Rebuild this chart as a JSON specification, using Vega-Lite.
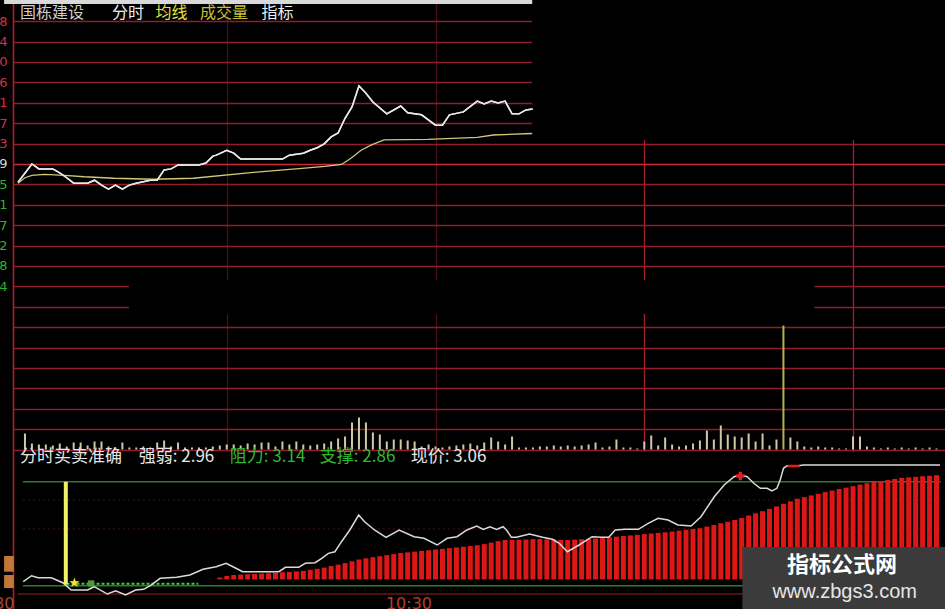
{
"$schema": "https://vega.github.io/schema/vega-lite/v6.json",
"width": 932,
"height": 609,
"autosize": {"type": "none"},
"padding": {"left": 13, "top": 0, "right": 0, "bottom": 0},
"background": "#000000",
"config": {"view": {"stroke": null}},
"data": {"values": [{}]},
"datasets": {
"price": [{"t":0,"p":2.953},{"t":2,"p":2.990},{"t":3,"p":2.980},{"t":5,"p":2.980},{"t":6,"p":2.972},{"t":7,"p":2.962},{"t":8,"p":2.951},{"t":10,"p":2.951},{"t":11,"p":2.957},{"t":12,"p":2.947},{"t":13,"p":2.939},{"t":14,"p":2.947},{"t":15,"p":2.939},{"t":16,"p":2.947},{"t":17,"p":2.951},{"t":19,"p":2.957},{"t":20,"p":2.957},{"t":21,"p":2.978},{"t":22,"p":2.980},{"t":23,"p":2.988},{"t":26,"p":2.988},{"t":27,"p":2.992},{"t":28,"p":3.006},{"t":28.5,"p":3.008},{"t":30,"p":3.018},{"t":31,"p":3.012},{"t":32,"p":3.000},{"t":38,"p":3.000},{"t":39,"p":3.008},{"t":41,"p":3.012},{"t":42,"p":3.018},{"t":43,"p":3.023},{"t":44,"p":3.031},{"t":45,"p":3.045},{"t":46,"p":3.053},{"t":47,"p":3.083},{"t":48,"p":3.106},{"t":49,"p":3.149},{"t":50,"p":3.134},{"t":51,"p":3.116},{"t":53,"p":3.092},{"t":55,"p":3.108},{"t":56,"p":3.094},{"t":58,"p":3.090},{"t":60,"p":3.069},{"t":61,"p":3.069},{"t":62,"p":3.090},{"t":64,"p":3.096},{"t":66,"p":3.118},{"t":67,"p":3.112},{"t":68,"p":3.118},{"t":69,"p":3.114},{"t":70,"p":3.118},{"t":71,"p":3.092},{"t":72,"p":3.092},{"t":73,"p":3.100},{"t":74,"p":3.102}],
"avg": [{"t":0,"a":2.951},{"t":1,"a":2.962},{"t":2,"a":2.967},{"t":3.8,"a":2.969},{"t":6.7,"a":2.967},{"t":9.5,"a":2.964},{"t":13.8,"a":2.961},{"t":19.5,"a":2.959},{"t":25.2,"a":2.961},{"t":34.7,"a":2.974},{"t":40.8,"a":2.981},{"t":44.1,"a":2.985},{"t":46.5,"a":2.989},{"t":47.9,"a":3.002},{"t":49.3,"a":3.018},{"t":50.8,"a":3.029},{"t":52.6,"a":3.039},{"t":58.9,"a":3.040},{"t":66,"a":3.044},{"t":68.3,"a":3.049},{"t":73.9,"a":3.052}],
"vol": [{"t":1,"v":1600},{"t":2,"v":600},{"t":3,"v":500},{"t":4,"v":500},{"t":5,"v":400},{"t":6,"v":600},{"t":7,"v":300},{"t":8,"v":700},{"t":9,"v":700},{"t":10,"v":400},{"t":11,"v":800},{"t":12,"v":800},{"t":13,"v":300},{"t":14,"v":200},{"t":15,"v":700},{"t":16,"v":200},{"t":17,"v":200},{"t":18,"v":300},{"t":19,"v":200},{"t":20,"v":700},{"t":21,"v":900},{"t":22,"v":300},{"t":23,"v":700},{"t":24,"v":200},{"t":25,"v":200},{"t":26,"v":200},{"t":27,"v":200},{"t":28,"v":300},{"t":29,"v":400},{"t":30,"v":500},{"t":31,"v":500},{"t":32,"v":400},{"t":33,"v":600},{"t":34,"v":500},{"t":35,"v":700},{"t":36,"v":700},{"t":37,"v":300},{"t":38,"v":800},{"t":39,"v":500},{"t":40,"v":800},{"t":41,"v":500},{"t":42,"v":400},{"t":43,"v":500},{"t":44,"v":600},{"t":45,"v":800},{"t":46,"v":1100},{"t":47,"v":1300},{"t":48,"v":2700},{"t":49,"v":3200},{"t":50,"v":2700},{"t":51,"v":1700},{"t":52,"v":1500},{"t":53,"v":800},{"t":54,"v":1000},{"t":55,"v":1000},{"t":56,"v":900},{"t":57,"v":800},{"t":58,"v":300},{"t":59,"v":500},{"t":60,"v":300},{"t":61,"v":200},{"t":62,"v":300},{"t":63,"v":400},{"t":64,"v":500},{"t":65,"v":600},{"t":66,"v":400},{"t":67,"v":700},{"t":68,"v":1200},{"t":69,"v":800},{"t":70,"v":500},{"t":71,"v":1300},{"t":72,"v":200},{"t":73,"v":200},{"t":74,"v":200},{"t":75,"v":300},{"t":76,"v":300},{"t":77,"v":400},{"t":78,"v":300},{"t":79,"v":400},{"t":80,"v":300},{"t":81,"v":400},{"t":82,"v":500},{"t":83,"v":700},{"t":84,"v":200},{"t":85,"v":300},{"t":86,"v":1000},{"t":87,"v":200},{"t":88,"v":200},{"t":89,"v":100},{"t":90,"v":800},{"t":91,"v":1400},{"t":92,"v":400},{"t":93,"v":1200},{"t":94,"v":500},{"t":95,"v":300},{"t":96,"v":400},{"t":97,"v":600},{"t":98,"v":900},{"t":99,"v":1900},{"t":100,"v":1000},{"t":101,"v":2400},{"t":102,"v":1500},{"t":103,"v":1300},{"t":104,"v":1200},{"t":105,"v":1600},{"t":106,"v":800},{"t":107,"v":1600},{"t":108,"v":400},{"t":109,"v":1000},{"t":110,"v":12400},{"t":111,"v":1200},{"t":112,"v":800},{"t":113,"v":300},{"t":114,"v":200},{"t":115,"v":300},{"t":116,"v":200},{"t":117,"v":200},{"t":118,"v":100},{"t":119,"v":100},{"t":120,"v":1300},{"t":121,"v":1300},{"t":122,"v":300},{"t":123,"v":200},{"t":124,"v":100},{"t":125,"v":200},{"t":126,"v":100},{"t":127,"v":200},{"t":128,"v":100},{"t":129,"v":200},{"t":130,"v":100},{"t":131,"v":200},{"t":132,"v":100}],
"ind": [{"t":0.75,"v":2.8708},{"t":1.95,"v":2.8869},{"t":2.89,"v":2.8815},{"t":4.79,"v":2.8815},{"t":6.44,"v":2.8681},{"t":7.64,"v":2.8484},{"t":10.0,"v":2.8484},{"t":10.95,"v":2.8573},{"t":12.84,"v":2.8376},{"t":14.03,"v":2.8465},{"t":15.46,"v":2.835},{"t":16.88,"v":2.8484},{"t":18.06,"v":2.8503},{"t":19.01,"v":2.86},{"t":20.43,"v":2.8799},{"t":22.79,"v":2.8826},{"t":24.7,"v":2.8888},{"t":26.59,"v":2.9042},{"t":28.48,"v":2.9112},{"t":29.9,"v":2.9203},{"t":31.32,"v":2.9069},{"t":32.28,"v":2.8977},{"t":37.49,"v":2.8977},{"t":38.43,"v":2.9095},{"t":40.34,"v":2.9095},{"t":41.28,"v":2.9203},{"t":42.7,"v":2.9219},{"t":43.65,"v":2.9338},{"t":44.6,"v":2.9472},{"t":45.54,"v":2.9515},{"t":46.49,"v":2.9785},{"t":47.68,"v":3.01},{"t":48.96,"v":3.0503},{"t":49.81,"v":3.0323},{"t":51.23,"v":3.01},{"t":52.89,"v":2.9903},{"t":54.78,"v":3.01},{"t":56.92,"v":2.9919},{"t":58.34,"v":2.9876},{"t":60.24,"v":2.9696},{"t":61.67,"v":2.9876},{"t":63.09,"v":2.9919},{"t":64.51,"v":3.01},{"t":65.93,"v":3.0207},{"t":66.87,"v":3.0118},{"t":67.82,"v":3.0188},{"t":68.78,"v":3.0118},{"t":69.71,"v":3.0188},{"t":70.2,"v":3.01},{"t":70.91,"v":2.9903},{"t":71.62,"v":2.9903},{"t":73.51,"v":2.9992},{"t":75.4,"v":2.9903},{"t":76.82,"v":2.9849},{"t":77.78,"v":2.9742},{"t":78.96,"v":2.9515},{"t":80.62,"v":2.9696},{"t":82.51,"v":2.9919},{"t":83.93,"v":2.9903},{"t":84.89,"v":2.9903},{"t":85.84,"v":3.01},{"t":87.26,"v":3.0118},{"t":89.15,"v":3.0118},{"t":90.57,"v":3.028},{"t":91.99,"v":3.0415},{"t":93.42,"v":3.0369},{"t":94.84,"v":3.0234},{"t":96.73,"v":3.0207},{"t":98.15,"v":3.0458},{"t":100.06,"v":3.0996},{"t":101.48,"v":3.1311},{"t":102.9,"v":3.1535},{"t":103.84,"v":3.158},{"t":104.79,"v":3.1535},{"t":105.74,"v":3.1357},{"t":106.68,"v":3.1222},{"t":107.64,"v":3.1222},{"t":108.35,"v":3.115},{"t":109.06,"v":3.1222},{"t":109.53,"v":3.1446},{"t":110.01,"v":3.1761},{"t":110.48,"v":3.1823},{"t":111.91,"v":3.1823},{"t":112.85,"v":3.185},{"t":132.5,"v":3.185}],
"bars": [{"t":29,"v":2.8821},{"t":30,"v":2.8861},{"t":31,"v":2.8888},{"t":32,"v":2.8899},{"t":33,"v":2.891},{"t":34,"v":2.892},{"t":35,"v":2.8928},{"t":36,"v":2.8937},{"t":37,"v":2.8947},{"t":38,"v":2.8961},{"t":39,"v":2.8972},{"t":40,"v":2.8985},{"t":41,"v":2.8998},{"t":42,"v":2.9028},{"t":43,"v":2.9055},{"t":44,"v":2.9087},{"t":45,"v":2.913},{"t":46,"v":2.9168},{"t":47,"v":2.9208},{"t":48,"v":2.9257},{"t":49,"v":2.9305},{"t":50,"v":2.9338},{"t":51,"v":2.9367},{"t":52,"v":2.9394},{"t":53,"v":2.9424},{"t":54,"v":2.9451},{"t":55,"v":2.948},{"t":56,"v":2.9499},{"t":57,"v":2.9518},{"t":58,"v":2.9537},{"t":59,"v":2.9556},{"t":60,"v":2.9575},{"t":61,"v":2.9593},{"t":62,"v":2.9612},{"t":63,"v":2.9631},{"t":64,"v":2.965},{"t":65,"v":2.9669},{"t":66,"v":2.9688},{"t":67,"v":2.972},{"t":68,"v":2.976},{"t":69,"v":2.9801},{"t":70,"v":2.983},{"t":71,"v":2.9836},{"t":72,"v":2.9841},{"t":73,"v":2.9847},{"t":74,"v":2.9855},{"t":75,"v":2.9855},{"t":76,"v":2.9849},{"t":77,"v":2.9844},{"t":78,"v":2.9836},{"t":79,"v":2.983},{"t":80,"v":2.9841},{"t":81,"v":2.9852},{"t":82,"v":2.986},{"t":83,"v":2.9871},{"t":84,"v":2.9884},{"t":85,"v":2.9903},{"t":86,"v":2.9922},{"t":87,"v":2.9938},{"t":88,"v":2.9954},{"t":89,"v":2.997},{"t":90,"v":2.9989},{"t":91,"v":3.0005},{"t":92,"v":3.0022},{"t":93,"v":3.0038},{"t":94,"v":3.0059},{"t":95,"v":3.0081},{"t":96,"v":3.0105},{"t":97,"v":3.0127},{"t":98,"v":3.0148},{"t":99,"v":3.0191},{"t":100,"v":3.0234},{"t":101,"v":3.028},{"t":102,"v":3.0323},{"t":103,"v":3.0369},{"t":104,"v":3.0425},{"t":105,"v":3.049},{"t":106,"v":3.0549},{"t":107,"v":3.0606},{"t":108,"v":3.0668},{"t":109,"v":3.0735},{"t":110,"v":3.0805},{"t":111,"v":3.0872},{"t":112,"v":3.0942},{"t":113,"v":3.0985},{"t":114,"v":3.1031},{"t":115,"v":3.1074},{"t":116,"v":3.112},{"t":117,"v":3.1163},{"t":118,"v":3.1203},{"t":119,"v":3.1241},{"t":120,"v":3.1282},{"t":121,"v":3.1322},{"t":122,"v":3.136},{"t":123,"v":3.1392},{"t":124,"v":3.1419},{"t":125,"v":3.1448},{"t":126,"v":3.1475},{"t":127,"v":3.1505},{"t":128,"v":3.1518},{"t":129,"v":3.1532},{"t":130,"v":3.1548},{"t":131,"v":3.1562},{"t":132,"v":3.1575}]
},
"resolve": {"scale": {"y": "independent"}, "axis": {"x": "independent", "y": "independent"}},
"layer": [
{
"layer": [
{"data": {"name": "price"},
 "mark": {"type": "line", "color": "#e8e8e8", "strokeWidth": 1.5},
 "encoding": {
  "x": {"field": "t", "type": "quantitative", "scale": {"domain": [0, 132.5], "nice": false, "zero": false},
   "axis": {"orient": "bottom", "title": null, "values": [30, 60, 90, 120], "grid": true, "labels": false, "ticks": false, "domain": false, "gridWidth": 1.3,
    "gridColor": {"condition": {"test": "datum.value >= 90", "value": "#a51e2c"}, "value": "#4a0e16"}}},
  "y": {"field": "p", "type": "quantitative", "scale": {"domain": [2.0847, 3.3236], "nice": false, "zero": false},
   "axis": {"orient": "left", "title": null,
    "values": [3.2805, 3.239, 3.1975, 3.156, 3.1145, 3.073, 3.0315, 2.99, 2.9485, 2.907, 2.8655, 2.824, 2.7825, 2.741],
    "format": ".2f",
    "grid": true, "gridWidth": 1.5, "ticks": false, "tickSize": 0,
    "gridColor": {"condition": {"test": "abs(datum.value - 2.99) < 0.001", "value": "#cc2838"}, "value": "#901c2c"},
    "domain": true, "domainColor": "#b01e2e", "domainWidth": 1.6,
    "labelPadding": 6, "labelFont": "DejaVu Sans", "labelFontSize": 13, "labelBaseline": "middle", "labelOverlap": false, "labelSeparation": 0, "labelFlush": false, "labelBound": false,
    "labelColor": {"condition": [{"test": "datum.value > 3", "value": "#d8303e"}, {"test": "datum.value > 2.98", "value": "#d8d8d8"}], "value": "#2cb42c"}}}}},
{"mark": {"type": "rect", "color": "#000000"},
 "encoding": {"x": {"datum": 73.9, "type": "quantitative", "scale": {"domain": [0, 132.5], "nice": false, "zero": false}}, "x2": {"datum": 134},
  "y": {"datum": 3.34, "type": "quantitative", "scale": {"domain": [2.0847, 3.3236], "nice": false, "zero": false}}, "y2": {"datum": 3.0388}}},
{"mark": {"type": "rect", "color": "#d9d9d9"},
 "encoding": {"x": {"datum": -2, "type": "quantitative", "scale": {"domain": [0, 132.5], "nice": false, "zero": false}}, "x2": {"datum": 73.9},
  "y": {"datum": 3.34, "type": "quantitative", "scale": {"domain": [2.0847, 3.3236], "nice": false, "zero": false}}, "y2": {"datum": 3.3155}}},
{"mark": {"type": "rect", "color": "#000000"},
 "encoding": {"x": {"datum": 15.93, "type": "quantitative", "scale": {"domain": [0, 132.5], "nice": false, "zero": false}}, "x2": {"datum": 114.46},
  "y": {"datum": 2.754, "type": "quantitative", "scale": {"domain": [2.0847, 3.3236], "nice": false, "zero": false}}, "y2": {"datum": 2.6849}}},
{"data": {"name": "avg"},
 "mark": {"type": "line", "color": "#cfc77a", "strokeWidth": 1.3},
 "encoding": {"x": {"field": "t", "type": "quantitative", "scale": {"domain": [0, 132.5], "nice": false, "zero": false}},
  "y": {"field": "a", "type": "quantitative", "scale": {"domain": [2.0847, 3.3236], "nice": false, "zero": false}}}},
{"data": {"name": "price"},
 "mark": {"type": "line", "color": "#e8e8e8", "strokeWidth": 1.5},
 "encoding": {"x": {"field": "t", "type": "quantitative", "scale": {"domain": [0, 132.5], "nice": false, "zero": false}},
  "y": {"field": "p", "type": "quantitative", "scale": {"domain": [2.0847, 3.3236], "nice": false, "zero": false}}}},
{"mark": {"type": "text", "text": "国栋建设", "align": "left", "baseline": "middle", "font": "Noto Sans CJK SC", "fontSize": 16, "color": "#cfcfcf"},
 "encoding": {"x": {"datum": 0.28, "type": "quantitative", "scale": {"domain": [0, 132.5], "nice": false, "zero": false}},
  "y": {"datum": 3.2972, "type": "quantitative", "scale": {"domain": [2.0847, 3.3236], "nice": false, "zero": false}}}},
{"mark": {"type": "text", "text": "分时", "align": "left", "baseline": "middle", "font": "Noto Sans CJK SC", "fontSize": 16, "color": "#eeeeee"},
 "encoding": {"x": {"datum": 13.5, "type": "quantitative", "scale": {"domain": [0, 132.5], "nice": false, "zero": false}},
  "y": {"datum": 3.2972, "type": "quantitative", "scale": {"domain": [2.0847, 3.3236], "nice": false, "zero": false}}}},
{"mark": {"type": "text", "text": "均线", "align": "left", "baseline": "middle", "font": "Noto Sans CJK SC", "fontSize": 16, "color": "#e6e040"},
 "encoding": {"x": {"datum": 19.76, "type": "quantitative", "scale": {"domain": [0, 132.5], "nice": false, "zero": false}},
  "y": {"datum": 3.2972, "type": "quantitative", "scale": {"domain": [2.0847, 3.3236], "nice": false, "zero": false}}}},
{"mark": {"type": "text", "text": "成交量", "align": "left", "baseline": "middle", "font": "Noto Sans CJK SC", "fontSize": 16, "color": "#c8c034"},
 "encoding": {"x": {"datum": 26.16, "type": "quantitative", "scale": {"domain": [0, 132.5], "nice": false, "zero": false}},
  "y": {"datum": 3.2972, "type": "quantitative", "scale": {"domain": [2.0847, 3.3236], "nice": false, "zero": false}}}},
{"mark": {"type": "text", "text": "指标", "align": "left", "baseline": "middle", "font": "Noto Sans CJK SC", "fontSize": 16, "color": "#eeeeee"},
 "encoding": {"x": {"datum": 35.0, "type": "quantitative", "scale": {"domain": [0, 132.5], "nice": false, "zero": false}},
  "y": {"datum": 3.2972, "type": "quantitative", "scale": {"domain": [2.0847, 3.3236], "nice": false, "zero": false}}}}
]
},
{
"data": {"name": "vol"},
"mark": {"type": "bar", "size": 2},
"encoding": {
 "x": {"field": "t", "type": "quantitative", "scale": {"domain": [0, 132.5], "nice": false, "zero": false}, "axis": null},
 "y": {"field": "v", "type": "quantitative", "scale": {"domain": [-15950, 44950], "nice": false, "zero": false},
  "axis": {"orient": "left", "title": null, "values": [14270, 12230, 10190, 8150, 6110, 4070, 2030, -10], "grid": true, "gridColor": "#901c2c", "gridWidth": 1.5, "labels": false, "ticks": false, "domain": false}},
 "y2": {"datum": 0},
 "color": {"condition": {"test": "datum.v > 5000", "value": "#b8b04e"}, "value": "#cfc8a6"}
}
},
{
"layer": [
{"data": {"name": "ind"},
 "mark": {"type": "rect", "color": "#000000"},
 "encoding": {"x": {"datum": 0.25, "type": "quantitative", "scale": {"domain": [0, 132.5], "nice": false, "zero": false},
   "axis": {"orient": "bottom", "title": null, "values": [0, 60], "grid": false, "ticks": false, "tickSize": 0, "domain": false, "offset": -15, "zindex": 1,
    "labelExpr": "datum.value == 0 ? '9:30' : '10:30'", "labelAlign": "right", "labelOffset": -4, "labelColor": "#b0402e", "labelFont": "DejaVu Sans", "labelFontSize": 16, "labelPadding": 1, "labelFlush": false, "labelOverlap": false, "labelBaseline": "top"}},
  "x2": {"datum": 134},
  "y": {"datum": 3.22, "type": "quantitative", "scale": {"domain": [2.7973, 4.4369], "nice": false, "zero": false}, "axis": null}, "y2": {"datum": 2.78}}},
{"mark": {"type": "rule", "color": "#6a1414", "strokeWidth": 1.5},
 "encoding": {"x": {"datum": 0, "type": "quantitative", "scale": {"domain": [0, 132.5], "nice": false, "zero": false}}, "x2": {"datum": 134},
  "y": {"datum": 2.8377, "type": "quantitative", "scale": {"domain": [2.7973, 4.4369], "nice": false, "zero": false}, "axis": null}}},
{"mark": {"type": "rect", "color": "#c07838"},
 "encoding": {"x": {"datum": -2, "type": "quantitative", "scale": {"domain": [0, 132.5], "nice": false, "zero": false}}, "x2": {"datum": -0.6},
  "y": {"datum": 2.94, "type": "quantitative", "scale": {"domain": [2.7973, 4.4369], "nice": false, "zero": false}, "axis": null}, "y2": {"datum": 2.8977}}},
{"mark": {"type": "rect", "color": "#c07838"},
 "encoding": {"x": {"datum": -2, "type": "quantitative", "scale": {"domain": [0, 132.5], "nice": false, "zero": false}}, "x2": {"datum": -0.6},
  "y": {"datum": 2.8888, "type": "quantitative", "scale": {"domain": [2.7973, 4.4369], "nice": false, "zero": false}, "axis": null}, "y2": {"datum": 2.8538}}},
{"mark": {"type": "rule", "color": "#4a1212", "strokeWidth": 1, "strokeDash": [2, 3]},
 "encoding": {"x": {"datum": 0.7, "type": "quantitative", "scale": {"domain": [0, 132.5], "nice": false, "zero": false}}, "x2": {"datum": 132.6},
  "y": {"datum": 3.091, "type": "quantitative", "scale": {"domain": [2.7973, 4.4369], "nice": false, "zero": false}, "axis": null}}},
{"mark": {"type": "rule", "color": "#4a1212", "strokeWidth": 1, "strokeDash": [2, 3]},
 "encoding": {"x": {"datum": 0.7, "type": "quantitative", "scale": {"domain": [0, 132.5], "nice": false, "zero": false}}, "x2": {"datum": 132.6},
  "y": {"datum": 3.013, "type": "quantitative", "scale": {"domain": [2.7973, 4.4369], "nice": false, "zero": false}, "axis": null}}},
{"mark": {"type": "rule", "color": "#2f7a2f", "strokeWidth": 1.5},
 "encoding": {"x": {"datum": 0.7, "type": "quantitative", "scale": {"domain": [0, 132.5], "nice": false, "zero": false}}, "x2": {"datum": 132.6},
  "y": {"datum": 3.14, "type": "quantitative", "scale": {"domain": [2.7973, 4.4369], "nice": false, "zero": false}, "axis": null}}},
{"mark": {"type": "rule", "color": "#2f7a2f", "strokeWidth": 1.5},
 "encoding": {"x": {"datum": 0.7, "type": "quantitative", "scale": {"domain": [0, 132.5], "nice": false, "zero": false}}, "x2": {"datum": 132.6},
  "y": {"datum": 2.86, "type": "quantitative", "scale": {"domain": [2.7973, 4.4369], "nice": false, "zero": false}, "axis": null}}},
{"data": {"name": "bars"},
 "mark": {"type": "bar", "size": 5, "color": "#dd1616"},
 "encoding": {"x": {"field": "t", "type": "quantitative", "scale": {"domain": [0, 132.5], "nice": false, "zero": false}},
  "y": {"field": "v", "type": "quantitative", "scale": {"domain": [2.7973, 4.4369], "nice": false, "zero": false}, "axis": null},
  "y2": {"datum": 2.877}}},
{"mark": {"type": "rule", "color": "#3ccc3c", "strokeWidth": 2, "strokeDash": [3, 2]},
 "encoding": {"x": {"datum": 6.97, "type": "quantitative", "scale": {"domain": [0, 132.5], "nice": false, "zero": false}}, "x2": {"datum": 25.9},
  "y": {"datum": 2.865, "type": "quantitative", "scale": {"domain": [2.7973, 4.4369], "nice": false, "zero": false}, "axis": null}}},
{"data": {"name": "ind"},
 "mark": {"type": "line", "color": "#dadada", "strokeWidth": 1.5},
 "encoding": {
  "x": {"field": "t", "type": "quantitative", "scale": {"domain": [0, 132.5], "nice": false, "zero": false}},
  "y": {"field": "v", "type": "quantitative", "scale": {"domain": [2.7973, 4.4369], "nice": false, "zero": false}, "axis": null}}},
{"mark": {"type": "rule", "color": "#f2f266", "strokeWidth": 4},
 "encoding": {"x": {"datum": 6.87, "type": "quantitative", "scale": {"domain": [0, 132.5], "nice": false, "zero": false}},
  "y": {"datum": 3.14, "type": "quantitative", "scale": {"domain": [2.7973, 4.4369], "nice": false, "zero": false}, "axis": null}, "y2": {"datum": 2.863}}},
{"mark": {"type": "text", "text": "★", "align": "center", "baseline": "middle", "font": "DejaVu Sans", "fontSize": 13, "color": "#f0e040"},
 "encoding": {"x": {"datum": 8.1, "type": "quantitative", "scale": {"domain": [0, 132.5], "nice": false, "zero": false}},
  "y": {"datum": 2.866, "type": "quantitative", "scale": {"domain": [2.7973, 4.4369], "nice": false, "zero": false}, "axis": null}}},
{"mark": {"type": "point", "shape": "square", "filled": true, "color": "#4a9a3a", "size": 40, "opacity": 1},
 "encoding": {"x": {"datum": 10.5, "type": "quantitative", "scale": {"domain": [0, 132.5], "nice": false, "zero": false}},
  "y": {"datum": 2.866, "type": "quantitative", "scale": {"domain": [2.7973, 4.4369], "nice": false, "zero": false}, "axis": null}}},
{"mark": {"type": "point", "shape": "cross", "filled": true, "color": "#e02020", "size": 70, "opacity": 1},
 "encoding": {"x": {"datum": 103.8, "type": "quantitative", "scale": {"domain": [0, 132.5], "nice": false, "zero": false}},
  "y": {"datum": 3.1553, "type": "quantitative", "scale": {"domain": [2.7973, 4.4369], "nice": false, "zero": false}, "axis": null}}},
{"mark": {"type": "rule", "color": "#e02020", "strokeWidth": 2.5},
 "encoding": {"x": {"datum": 110.6, "type": "quantitative", "scale": {"domain": [0, 132.5], "nice": false, "zero": false}}, "x2": {"datum": 112.3},
  "y": {"datum": 3.1823, "type": "quantitative", "scale": {"domain": [2.7973, 4.4369], "nice": false, "zero": false}, "axis": null}}},
{"mark": {"type": "text", "text": "分时买卖准确", "align": "left", "baseline": "middle", "font": "Noto Sans CJK SC", "fontSize": 17, "color": "#e6e6e6"},
 "encoding": {"x": {"datum": 0.28, "type": "quantitative", "scale": {"domain": [0, 132.5], "nice": false, "zero": false}},
  "y": {"datum": 3.2065, "type": "quantitative", "scale": {"domain": [2.7973, 4.4369], "nice": false, "zero": false}, "axis": null}}},
{"mark": {"type": "text", "text": "强弱: 2.96", "align": "left", "baseline": "middle", "font": "Noto Sans CJK SC", "fontSize": 17, "color": "#e6e6e6"},
 "encoding": {"x": {"datum": 17.35, "type": "quantitative", "scale": {"domain": [0, 132.5], "nice": false, "zero": false}},
  "y": {"datum": 3.2065, "type": "quantitative", "scale": {"domain": [2.7973, 4.4369], "nice": false, "zero": false}, "axis": null}}},
{"mark": {"type": "text", "text": "阻力: 3.14", "align": "left", "baseline": "middle", "font": "Noto Sans CJK SC", "fontSize": 17, "color": "#33b833"},
 "encoding": {"x": {"datum": 30.43, "type": "quantitative", "scale": {"domain": [0, 132.5], "nice": false, "zero": false}},
  "y": {"datum": 3.2065, "type": "quantitative", "scale": {"domain": [2.7973, 4.4369], "nice": false, "zero": false}, "axis": null}}},
{"mark": {"type": "text", "text": "支撑: 2.86", "align": "left", "baseline": "middle", "font": "Noto Sans CJK SC", "fontSize": 17, "color": "#33b833"},
 "encoding": {"x": {"datum": 43.37, "type": "quantitative", "scale": {"domain": [0, 132.5], "nice": false, "zero": false}},
  "y": {"datum": 3.2065, "type": "quantitative", "scale": {"domain": [2.7973, 4.4369], "nice": false, "zero": false}, "axis": null}}},
{"mark": {"type": "text", "text": "现价: 3.06", "align": "left", "baseline": "middle", "font": "Noto Sans CJK SC", "fontSize": 17, "color": "#e6e6e6"},
 "encoding": {"x": {"datum": 56.45, "type": "quantitative", "scale": {"domain": [0, 132.5], "nice": false, "zero": false}},
  "y": {"datum": 3.2065, "type": "quantitative", "scale": {"domain": [2.7973, 4.4369], "nice": false, "zero": false}, "axis": null}}},
{"mark": {"type": "rect", "color": "#3b3b3b"},
 "encoding": {"x": {"datum": 104.1, "type": "quantitative", "scale": {"domain": [0, 132.5], "nice": false, "zero": false}}, "x2": {"datum": 134},
  "y": {"datum": 2.9642, "type": "quantitative", "scale": {"domain": [2.7973, 4.4369], "nice": false, "zero": false}, "axis": null}, "y2": {"datum": 2.78}}},
{"mark": {"type": "text", "text": "指标公式网", "align": "center", "baseline": "middle", "font": "Noto Sans CJK SC", "fontSize": 22, "fontWeight": "bold", "color": "#ffffff"},
 "encoding": {"x": {"datum": 118.4, "type": "quantitative", "scale": {"domain": [0, 132.5], "nice": false, "zero": false}},
  "y": {"datum": 2.9157, "type": "quantitative", "scale": {"domain": [2.7973, 4.4369], "nice": false, "zero": false}, "axis": null}}},
{"mark": {"type": "text", "text": "www.zbgs3.com", "align": "center", "baseline": "middle", "font": "Liberation Sans", "fontSize": 20, "color": "#e6e6e6"},
 "encoding": {"x": {"datum": 118.8, "type": "quantitative", "scale": {"domain": [0, 132.5], "nice": false, "zero": false}},
  "y": {"datum": 2.8439, "type": "quantitative", "scale": {"domain": [2.7973, 4.4369], "nice": false, "zero": false}, "axis": null}}}
]
}
]
}
